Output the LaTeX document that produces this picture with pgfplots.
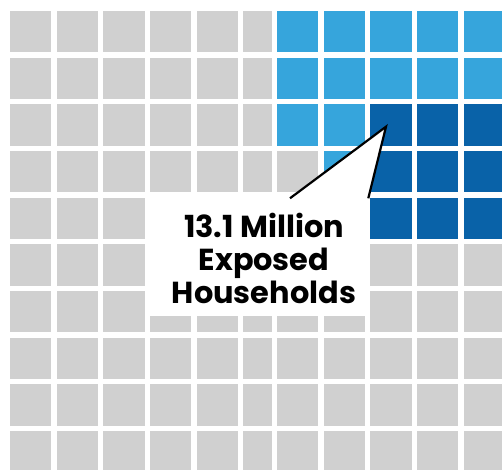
\documentclass[border=0pt]{standalone}
\usepackage{pgfplots}
\usepackage{pgfplotstable}
\pgfplotsset{compat=1.18}
\usepackage{fontspec}
\setmainfont{Poppins}
\definecolor{cellgray}{RGB}{208,208,208}
\definecolor{lightblue}{RGB}{54,165,220}
\definecolor{darkblue}{RGB}{9,98,168}

% cell centres in pixel coordinates (x from left, y from top), class g/l/d
\pgfplotstableread{
x y c
30.3 31.3 g
77.0 31.3 g
123.7 31.3 g
170.3 31.3 g
217.0 31.3 g
297.3 31.3 l
344.0 31.3 l
390.7 31.3 l
437.3 31.3 l
484.0 31.3 l
30.3 78.0 g
77.0 78.0 g
123.7 78.0 g
170.3 78.0 g
217.0 78.0 g
297.3 78.0 l
344.0 78.0 l
390.7 78.0 l
437.3 78.0 l
484.0 78.0 l
30.3 124.7 g
77.0 124.7 g
123.7 124.7 g
170.3 124.7 g
217.0 124.7 g
297.3 124.7 l
344.0 124.7 l
390.7 124.7 d
437.3 124.7 d
484.0 124.7 d
30.3 171.3 g
77.0 171.3 g
123.7 171.3 g
170.3 171.3 g
217.0 171.3 g
297.3 171.3 g
344.0 171.3 l
390.7 171.3 d
437.3 171.3 d
484.0 171.3 d
30.3 218.0 g
77.0 218.0 g
123.7 218.0 g
170.3 218.0 g
217.0 218.0 g
297.3 218.0 l
344.0 218.0 l
390.7 218.0 d
437.3 218.0 d
484.0 218.0 d
30.3 264.7 g
77.0 264.7 g
123.7 264.7 g
170.3 264.7 g
217.0 264.7 g
297.3 264.7 g
344.0 264.7 g
390.7 264.7 g
437.3 264.7 g
484.0 264.7 g
30.3 311.3 g
77.0 311.3 g
123.7 311.3 g
170.3 311.3 g
217.0 311.3 g
297.3 311.3 g
344.0 311.3 g
390.7 311.3 g
437.3 311.3 g
484.0 311.3 g
30.3 358.0 g
77.0 358.0 g
123.7 358.0 g
170.3 358.0 g
217.0 358.0 g
297.3 358.0 g
344.0 358.0 g
390.7 358.0 g
437.3 358.0 g
484.0 358.0 g
30.3 404.7 g
77.0 404.7 g
123.7 404.7 g
170.3 404.7 g
217.0 404.7 g
297.3 404.7 g
344.0 404.7 g
390.7 404.7 g
437.3 404.7 g
484.0 404.7 g
30.3 451.3 g
77.0 451.3 g
123.7 451.3 g
170.3 451.3 g
217.0 451.3 g
297.3 451.3 g
344.0 451.3 g
390.7 451.3 g
437.3 451.3 g
484.0 451.3 g
}\cells

% the narrower sixth column
\pgfplotstableread{
x y c
257.2 31.3 g
257.2 78.0 g
257.2 124.7 g
257.2 171.3 g
257.2 218.0 g
257.2 264.7 g
257.2 311.3 g
257.2 358.0 g
257.2 404.7 g
257.2 451.3 g
}\narrowcol

\begin{document}
\begin{tikzpicture}
\begin{axis}[
  hide axis,
  scale only axis,
  width=502bp, height=470bp,
  xmin=0, xmax=502, ymin=0, ymax=470,
  y dir=reverse,
  clip=false,
]
\addplot[scatter, only marks, mark=square*, mark size=20.2bp,
  mark options={line width=0.15bp},
  scatter src=explicit symbolic,
  scatter/classes={
    g={mark=square*, draw=cellgray, fill=cellgray},
    l={mark=square*, draw=lightblue, fill=lightblue},
    d={mark=square*, draw=darkblue, fill=darkblue}}]
  table[x=x, y=y, meta=c] {\cells};
\addplot[only marks, mark=square*, mark size=20.2bp, color=cellgray,
  mark options={xscale=0.68, line width=0.15bp, draw=cellgray, fill=cellgray}]
  table[x=x, y=y] {\narrowcol};

\coordinate (boxbl) at (axis cs:147,316);
\coordinate (boxtr) at (axis cs:368,194);
\coordinate (pl) at (axis cs:290,198.3);
\coordinate (pt) at (axis cs:386,126.7);
\coordinate (pr) at (axis cs:368.3,198.3);
\coordinate (lab) at (axis cs:264,258.5);
\coordinate (bl) at (axis cs:0,470);
\coordinate (tr) at (axis cs:502,0);
\end{axis}
% callout
\fill[white] (boxbl) rectangle (boxtr);
\fill[white] (pl) -- (pt) -- (pr) -- cycle;
\draw[black, line width=2.2bp, line join=miter] (pl) -- (pt) -- (pr);
\node[align=center, font=\fontsize{30.5}{33.2}\selectfont\bfseries, inner sep=0pt] at (lab) {13.1 Million\\Exposed\\Households};
\pgfresetboundingbox
\path[use as bounding box] (bl) rectangle (tr);
\end{tikzpicture}
\end{document}
